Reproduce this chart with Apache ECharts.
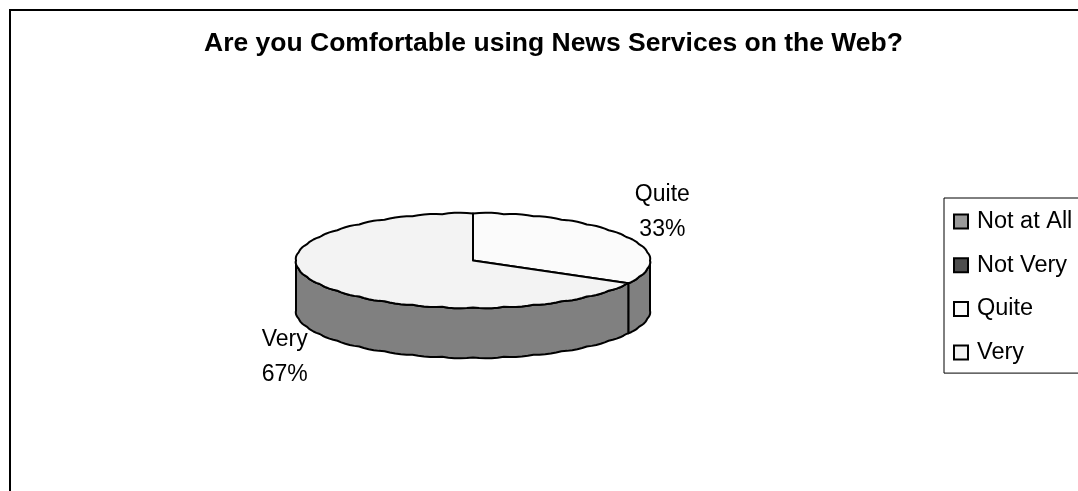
<!DOCTYPE html>
<html>
<head>
<meta charset="utf-8">
<style>html,body{margin:0;padding:0;background:#fff}#chart{width:1078px;height:491px}</style>
<script src="https://cdn.jsdelivr.net/npm/echarts@6/dist/echarts.min.js"></script>
</head>
<body>
<div id="chart"></div>
<script>
const chartTitle = 'Are you Comfortable using News Services on the Web?';
const categories = ['Not at All', 'Not Very', 'Quite', 'Very'];
const shares = [0, 0, 33, 67];
const topColors = ['#999999', '#4d4d4d', '#fbfbfb', '#f3f3f3'];
const sideColor = '#808080';

// Tilted disc geometry and label offsets from the rim
const disc = { cx: 473, cy: 260.5, rx: 177, ry: 47, depth: 50, bumpX: 0.003, bumpY: 0.02, step: 10 };
const labelOffsets = { Quite: [37, -24.5], Very: [-36, 72.5] };
const total = shares.reduce((a, b) => a + b, 0);

function rimPoint(deg, kx, ky, dy) {
  const t = deg * Math.PI / 180;
  return [disc.cx + disc.rx * kx * Math.sin(t), disc.cy - disc.ry * ky * Math.cos(t) + (dy || 0)];
}

// Rim from one angle to another, built of short outward-bowing arcs
function rim(a0, a1, dy) {
  const out = [];
  const first = Math.floor(a0 / disc.step);
  for (let i = first; i * disc.step < a1; i++) {
    const s = Math.max(i * disc.step, a0);
    const e = Math.min((i + 1) * disc.step, a1);
    const sub = 5;
    for (let j = 0; j <= sub; j++) {
      const deg = s + (e - s) * j / sub;
      const g = (deg - i * disc.step) / disc.step;
      const bow = 4 * g * (1 - g);
      out.push(rimPoint(deg, 1 + disc.bumpX * bow, 1 + disc.bumpY * bow, dy));
    }
  }
  return out;
}

function startAngle(idx) {
  let sum = 0;
  // Slices run clockwise from twelve o'clock; the empty categories take no room
  for (let i = 0; i < idx; i++) sum += shares[i];
  return sum / total * 360;
}

function renderSlice(params, api) {
  const idx = params.seriesIndex;
  const value = api.value(0);
  if (!value) return null;
  const a0 = startAngle(idx);
  const a1 = a0 + value / total * 360;
  const stroke = { stroke: '#000', lineWidth: 2, lineJoin: 'round' };
  const children = [];

  // Front wall: only the part of the rim facing the viewer (90° to 270°)
  const w0 = Math.max(a0, 90), w1 = Math.min(a1, 270);
  if (w1 > w0) {
    const upper = rim(w0, w1, 0);
    const lower = rim(w0, w1, disc.depth).reverse();
    children.push({
      type: 'polygon', shape: { points: upper.concat(lower) },
      style: Object.assign({ fill: sideColor }, stroke)
    });
  }
  // Top face
  children.push({
    type: 'polygon', shape: { points: [[disc.cx, disc.cy]].concat(rim(a0, a1, 0)) },
    style: Object.assign({ fill: topColors[idx] }, stroke)
  });
  // Data label: category name and rounded share
  const mid = (a0 + a1) / 2;
  const anchor = rimPoint(mid, 1, 1);
  const off = labelOffsets[categories[idx]];
  children.push({
    type: 'text', z2: 20,
    style: {
      x: anchor[0] + off[0], y: anchor[1] + off[1],
      text: categories[idx] + '\n' + Math.round(value / total * 100) + '%',
      fill: '#000', font: '23px "Liberation Sans", Arial, sans-serif',
      lineHeight: 35, align: 'center', verticalAlign: 'middle'
    }
  });
  return { type: 'group', children };
}

const chart = echarts.init(document.getElementById('chart'), null, { renderer: 'canvas' });
chart.setOption({
  animation: false,
  backgroundColor: '#fff',
  title: {
    text: chartTitle, left: 548.5, top: 25, textAlign: 'center',
    textStyle: { fontFamily: '"Liberation Sans", Arial, sans-serif', fontWeight: 'bold', fontSize: 26.5, color: '#000' }
  },
  graphic: [{
    type: 'rect', z: -1, silent: true,
    shape: { x: 10, y: 10, width: 1200, height: 600 },
    style: { fill: 'none', stroke: '#000', lineWidth: 2 }
  }],
  legend: {
    orient: 'vertical', left: 944, top: 198,
    padding: [11, 30, 8, 9],
    backgroundColor: '#fff', borderColor: '#000', borderWidth: 1,
    itemWidth: 14, itemHeight: 14, itemGap: 18.7,
    icon: 'rect',
    textStyle: { fontFamily: '"Liberation Sans", Arial, sans-serif', fontSize: 23.5, color: '#000', padding: [0, 0, 3, 4], lineHeight: 22 },
    data: categories.map((name, i) => ({
      name, itemStyle: { color: topColors[i], borderColor: '#000', borderWidth: 2 }
    }))
  },
  series: categories.map((name, i) => ({
    type: 'custom', name, coordinateSystem: 'none', silent: true,
    color: topColors[i], renderItem: renderSlice, data: [[shares[i]]]
  }))
});
</script>
</body>
</html>
